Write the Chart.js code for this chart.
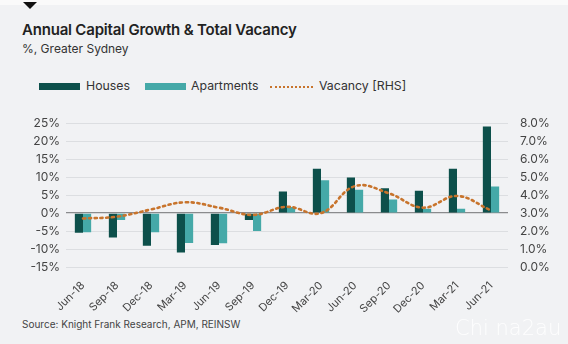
<!DOCTYPE html>
<html><head><meta charset="utf-8">
<script src="https://cdn.jsdelivr.net/npm/chart.js@4/dist/chart.umd.min.js"></script>
<style>
html,body{margin:0;padding:0;}
body{width:568px;height:344px;background:#f1f2f4;position:relative;overflow:hidden;font-family:Inter,"Noto Sans",sans-serif;}
#topbar{position:absolute;left:0;top:0;width:568px;height:5px;background:#fafafa;}
#tri{position:absolute;left:23px;top:2px;width:0;height:0;border-left:7px solid transparent;border-right:7px solid transparent;border-top:7px solid #111;}
#title{position:absolute;left:22px;top:20px;font-size:15px;font-weight:600;color:#222;letter-spacing:-0.2px;}
#sub{position:absolute;left:22px;top:41px;font-size:12px;color:#333;}
.lg{position:absolute;top:78px;font-size:12.3px;color:#333;line-height:16px;}
.sw{position:absolute;top:83px;width:41px;height:7px;}
.dot{position:absolute;top:86px;width:43px;border-top:2px dotted #c8742c;}
#src{position:absolute;left:22px;top:318px;font-size:10px;color:#444;}
#wm{position:absolute;left:455px;top:316px;font-size:21px;color:rgba(255,255,255,0.85);font-family:"DejaVu Sans",sans-serif;font-weight:300;}
#wrap{position:absolute;left:0;top:104px;width:568px;height:214px;}
</style></head>
<body>
<div id="topbar"></div><div id="tri"></div>
<div id="title">Annual Capital Growth &amp; Total Vacancy</div>
<div id="sub">%, Greater Sydney</div>
<span class="sw" style="left:39px;background:#0d504b"></span><span class="lg" style="left:86px">Houses</span>
<span class="sw" style="left:145px;background:#45a9a8"></span><span class="lg" style="left:191px">Apartments</span>
<span class="dot" style="left:270px"></span><span class="lg" style="left:319px">Vacancy [RHS]</span>
<div id="wrap"><canvas id="c" width="568" height="214"></canvas></div>
<div id="src">Source: Knight Frank Research, APM, REINSW</div>
<div id="wm">Chi na2au</div>
<script>
const categories = ["Jun-18","Sep-18","Dec-18","Mar-19","Jun-19","Sep-19","Dec-19","Mar-20","Jun-20","Sep-20","Dec-20","Mar-21","Jun-21"];
const houses = [-5.5,-6.8,-9.1,-11.0,-8.9,-1.9,6.0,12.3,9.9,6.9,6.2,12.3,24.1];
const apartments = [-5.3,-1.9,-5.3,-8.3,-8.4,-5.0,1.7,9.1,6.5,3.8,1.2,1.2,7.4];
const vacancy = [2.7,2.8,3.2,3.6,3.3,2.9,3.35,3.0,4.5,4.1,3.3,3.95,3.15];

const fam = "Inter, 'Noto Sans', sans-serif";
new Chart(document.getElementById('c'), {
  data:{
    labels:categories,
    datasets:[
      {type:'line',label:'Vacancy [RHS]',data:vacancy,yAxisID:'y2',borderColor:'#c8742c',borderWidth:2.6,borderDash:[2.2,3.6],borderCapStyle:'round',tension:0.4,pointRadius:0,fill:false,order:0},
      {type:'bar',label:'Houses',data:houses,yAxisID:'y',backgroundColor:'#0d504b',categoryPercentage:0.48,barPercentage:1,order:1},
      {type:'bar',label:'Apartments',data:apartments,yAxisID:'y',backgroundColor:'#45a9a8',categoryPercentage:0.48,barPercentage:1,order:1}
    ]
  },
  options:{
    responsive:false,animation:false,
    layout:{padding:{top:6,left:0,right:0,bottom:0}},
    plugins:{legend:{display:false},tooltip:{enabled:false}},
    scales:{
      x:{grid:{display:false},border:{display:false},
         ticks:{autoSkip:false,color:'#444',font:{family:fam,size:11},maxRotation:45,minRotation:45,padding:4},
         afterFit(s){s.height=51;}},
      y:{position:'left',min:-15,max:25,
         ticks:{autoSkip:false,stepSize:5,color:'#444',font:{family:fam,size:12},padding:6,callback:v=>v+'%'},
         grid:{color:c=>c.tick.value===0?'#8a8b8d':'#dcdee1',lineWidth:c=>c.tick.value===0?1.2:1,drawTicks:false},
         border:{display:false},
         afterFit(s){s.width=66;}},
      y2:{position:'right',min:0,max:8,
         ticks:{autoSkip:false,stepSize:1,color:'#444',font:{family:fam,size:12},padding:12,callback:v=>v.toFixed(1)+'%'},
         grid:{display:false,drawTicks:false},border:{display:false},
         afterFit(s){s.width=60;}}
    }
  }
});
</script>
</body></html>
